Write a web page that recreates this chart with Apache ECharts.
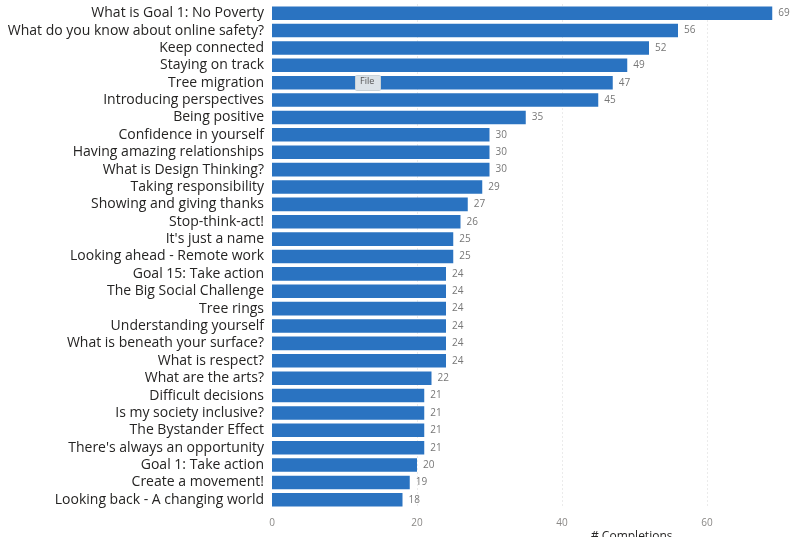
<!DOCTYPE html>
<html>
<head>
<meta charset="utf-8">
<script src="https://cdn.jsdelivr.net/npm/echarts@6/dist/echarts.min.js"></script>
<style>
  html, body { margin: 0; padding: 0; background: #ffffff; }
  #chart { width: 792px; height: 537px; }
</style>
</head>
<body>
<div id="chart"></div>
<script>
// Module titles, listed top to bottom
const modules = [
  "What is Goal 1: No Poverty",
  "What do you know about online safety?",
  "Keep connected",
  "Staying on track",
  "Tree migration",
  "Introducing perspectives",
  "Being positive",
  "Confidence in yourself",
  "Having amazing relationships",
  "What is Design Thinking?",
  "Taking responsibility",
  "Showing and giving thanks",
  "Stop-think-act!",
  "It's just a name",
  "Looking ahead - Remote work",
  "Goal 15: Take action",
  "The Big Social Challenge",
  "Tree rings",
  "Understanding yourself",
  "What is beneath your surface?",
  "What is respect?",
  "What are the arts?",
  "Difficult decisions",
  "Is my society inclusive?",
  "The Bystander Effect",
  "There's always an opportunity",
  "Goal 1: Take action",
  "Create a movement!",
  "Looking back - A changing world"
];

// Number of completions per module
const completions = [
  69, 56, 52, 49, 47, 45, 35, 30, 30, 30,
  29, 27, 26, 25, 25, 24, 24, 24, 24, 24,
  24, 22, 21, 21, 21, 21, 20, 19, 18
];

const xTicks = [0, 20, 40, 60];

const FONT = "'Open Sans', 'Noto Sans', sans-serif";

const chart = echarts.init(document.getElementById('chart'), null, { renderer: 'canvas' });

chart.setOption({
  animation: false,
  backgroundColor: '#ffffff',
  title: {
    text: '# Completions',
    left: 586,
    top: 526,
    textStyle: { fontFamily: FONT, fontSize: 12, fontWeight: 'normal', color: '#252423' }
  },
  grid: { left: 272, right: 12.5, top: 4.5, bottom: 28.5, containLabel: false },
  xAxis: {
    type: 'value',
    min: 0,
    max: 70,
    interval: 20,
    axisLine: { show: false },
    axisTick: { show: false },
    axisLabel: {
      fontFamily: FONT, fontSize: 10, color: '#8a8886', margin: 10,
      formatter: v => (xTicks.indexOf(v) >= 0 ? String(v) : '')
    },
    splitLine: {
      show: true,
      showMinLine: false,
      showMaxLine: false,
      lineStyle: { color: '#d6d6d6', type: [1, 3], width: 1 }
    }
  },
  yAxis: {
    type: 'category',
    inverse: true,
    data: modules,
    axisLine: { show: false },
    axisTick: { show: false },
    axisLabel: { interval: 0, fontFamily: FONT, fontSize: 14, color: '#252423', margin: 8 }
  },
  series: [{
    type: 'bar',
    data: completions,
    barCategoryGap: '22%',
    itemStyle: { color: '#2a73c1' },
    label: {
      show: true,
      position: 'right',
      distance: 6,
      fontFamily: FONT,
      fontSize: 10,
      color: '#777777'
    }
  }],
  graphic: [
    {
      type: 'rect',
      left: 355,
      top: 75,
      z: 100,
      shape: { width: 25, height: 15, r: 1 },
      style: { fill: '#dce3e8', stroke: '#c9d2d8' }
    },
    {
      type: 'text',
      left: 360,
      top: 77,
      z: 101,
      style: { text: 'File', fontFamily: FONT, fontSize: 9, fill: '#555555' }
    }
  ]
});
</script>
</body>
</html>
